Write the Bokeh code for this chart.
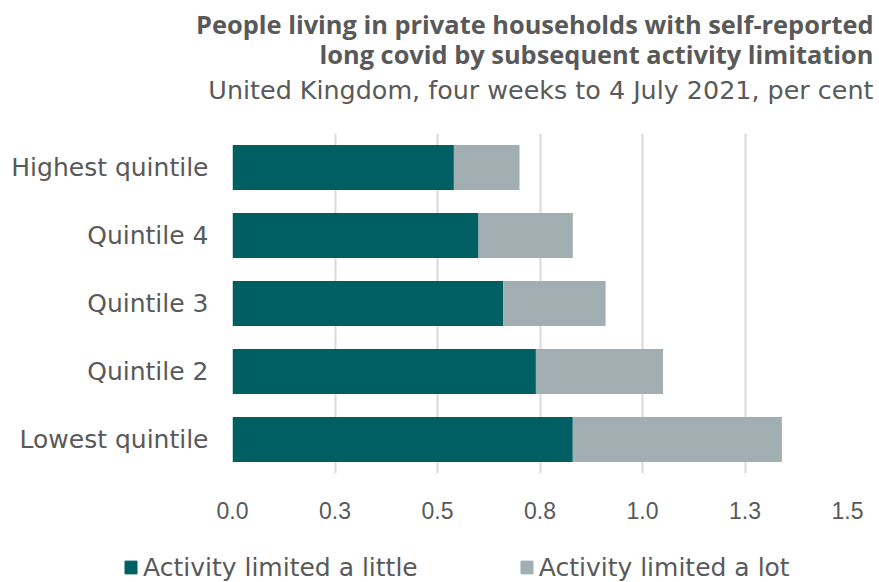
from bokeh.plotting import figure
from bokeh.models import FactorRange, Range1d, FixedTicker, Label, Legend, LegendItem, ColumnDataSource
from bokeh.embed import file_html
from bokeh.resources import INLINE

categories = ["Lowest quintile", "Quintile 2", "Quintile 3", "Quintile 4", "Highest quintile"]
limited_little = [0.83, 0.74, 0.66, 0.60, 0.54]
limited_lot = [0.51, 0.31, 0.25, 0.23, 0.16]
tick_values = [0.0, 0.25, 0.5, 0.75, 1.0, 1.25, 1.5]
tick_labels = ["0.0", "0.3", "0.5", "0.8", "1.0", "1.3", "1.5"]
series_names = ["Activity limited a little", "Activity limited a lot"]
title_lines = ["People living in private households with self-reported",
               "long covid by subsequent activity limitation"]
subtitle = "United Kingdom, four weeks to 4 July 2021, per cent"
colors = ["#005F63", "#A2AFB2"]

TEXT = "#595959"
FONT = "DejaVu Sans"


def strip(height, x_end, y_start):
    f = figure(width=879, height=height, x_range=Range1d(0, x_end), y_range=Range1d(y_start, 0),
               output_backend="svg", toolbar_location=None, title=None,
               x_axis_location=None, y_axis_location=None)
    f.min_border_left = 0
    f.min_border_right = 0
    f.min_border_top = 0
    f.min_border_bottom = 0
    f.outline_line_color = None
    f.xgrid.grid_line_color = None
    f.ygrid.grid_line_color = None
    return f


# ---- title strip ----
head = strip(115, 879, 115)
head.add_layout(Label(x=873, y=23, text=title_lines[0], text_align="right", text_baseline="middle",
                      text_font="Open Sans", text_font_size="25.4px", text_font_style="bold",
                      text_color=TEXT))
head.add_layout(Label(x=873, y=53, text=title_lines[1], text_align="right", text_baseline="middle",
                      text_font="Open Sans", text_font_size="25.4px", text_font_style="bold",
                      text_color=TEXT))
head.add_layout(Label(x=873, y=89, text=subtitle, text_align="right", text_baseline="middle",
                      text_font=FONT, text_font_size="25.4px", text_color=TEXT))

# ---- main chart ----
src = ColumnDataSource(dict(cat=categories, little=limited_little, lot=limited_lot))

p = figure(width=879, height=430, y_range=FactorRange(*categories, range_padding=0),
           x_range=Range1d(0, 1.5), output_backend="svg", toolbar_location=None,
           title=None)
p.min_border_left = 232
p.min_border_right = 32
p.min_border_bottom = 72
p.min_border_top = 18
p.outline_line_color = None
p.background_fill_color = "white"
p.border_fill_color = "white"

renderers = p.hbar_stack(["little", "lot"], y="cat", height=0.66, color=colors,
                         source=src, line_color=None)

p.xaxis.ticker = FixedTicker(ticks=tick_values)
p.xaxis.major_label_overrides = {v: l for v, l in zip(tick_values, tick_labels)}
p.xaxis.axis_line_color = None
p.xaxis.major_tick_line_color = None
p.xaxis.minor_tick_line_color = None
p.xaxis.major_label_standoff = 22
p.xaxis.major_label_text_font = "Liberation Sans"
p.xaxis.major_label_text_font_size = "23px"
p.xaxis.major_label_text_color = TEXT

p.yaxis.axis_line_color = None
p.yaxis.major_tick_line_color = None
p.yaxis.minor_tick_line_color = None
p.yaxis.major_label_standoff = 18
p.yaxis.major_label_text_font = FONT
p.yaxis.major_label_text_font_size = "25px"
p.yaxis.major_label_text_color = TEXT

p.ygrid.grid_line_color = None
p.xgrid.grid_line_color = "#D9D9D9"
p.xgrid.grid_line_width = 2

# ---- legend strip ----
lg = figure(width=879, height=37, x_range=Range1d(0, 1), y_range=Range1d(0, 1),
            output_backend="svg", toolbar_location=None, title=None,
            x_axis_location=None, y_axis_location=None)
lg.min_border_left = 0
lg.min_border_right = 0
lg.min_border_top = 0
lg.min_border_bottom = 0
lg.outline_line_color = None
lg.xgrid.grid_line_color = None
lg.ygrid.grid_line_color = None
dummies = [lg.hbar(y=[-5], left=[-5], right=[-4], height=0.5, color=c) for c in colors]

legend = Legend(items=[LegendItem(label=n, renderers=[r]) for n, r in zip(series_names, dummies)],
                orientation="horizontal", location=(123, 0), border_line_color=None,
                background_fill_alpha=0, padding=0, margin=0, spacing=101,
                label_text_font=FONT, label_text_font_size="25px", label_text_color=TEXT,
                glyph_width=15, glyph_height=16, label_standoff=5, label_height=30)
lg.add_layout(legend, "center")

open("out.html", "w").write(file_html([head, p, lg], INLINE))
